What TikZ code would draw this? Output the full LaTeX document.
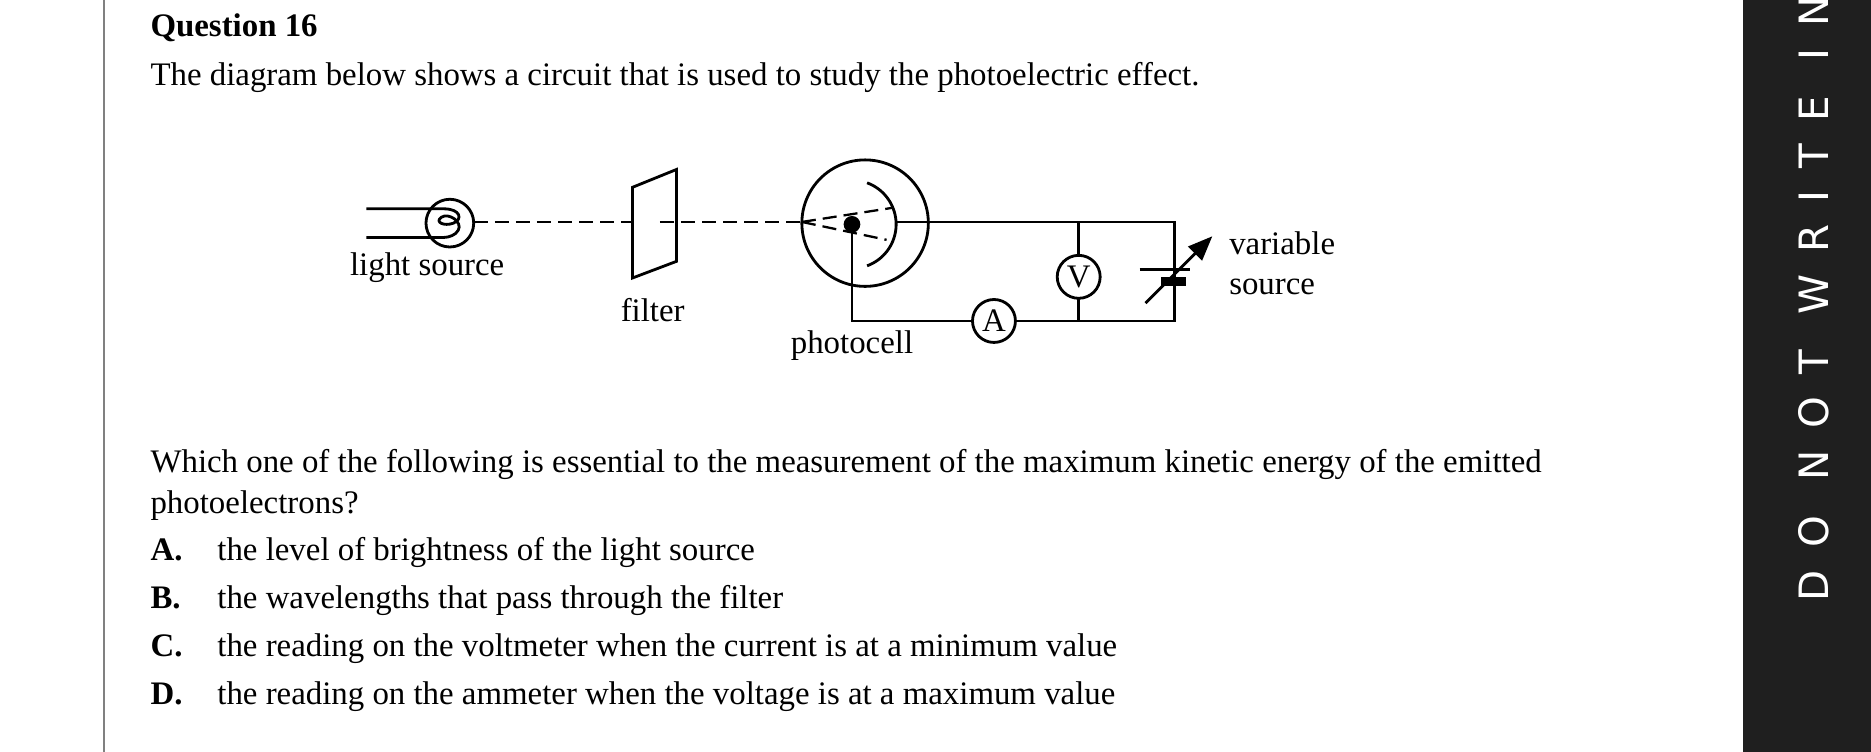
\documentclass[tikz,border=0pt]{standalone}
\usepackage{fontspec}
\setmainfont{Liberation Serif}
\newfontfamily\sidefont[LetterSpace=55]{DejaVu Sans}
\usetikzlibrary{arrows.meta}
\begin{document}
\begin{tikzpicture}[x=0.02386cm, y=-0.02386cm, line width=1.6pt,
  every node/.style={font=\fontsize{18.7}{22}\selectfont, inner sep=0pt},
  meter/.style={draw, circle, minimum size=36*0.02386cm, inner sep=0pt, fill=white},
  beam/.style={dash pattern=on 8pt off 4pt, line width=1.3pt}]
\useasboundingbox (0,0) rectangle (1568,630);
\clip (0,0) rectangle (1568,630);
% page furniture
\draw[gray, line width=1pt] (87,0) -- (87,630);
\fill[black!88] (1461,0) rectangle (1568,630);
\node[rotate=90, anchor=west, text=white, font=\sidefont\fontsize{23}{25}\selectfont] at (1520,505) {DO NOT WRITE IN};
% text
\node[anchor=base west, font=\bfseries\fontsize{18.7}{22}\selectfont] at (125,31) {Question 16};
\node[anchor=base west] at (125,72) {The diagram below shows a circuit that is used to study the photoelectric effect.};
\node[anchor=base west] at (125,396) {Which one of the following is essential to the measurement of the maximum kinetic energy of the emitted};
\node[anchor=base west] at (125,430) {photoelectrons?};
\foreach \l/\t [count=\i] in {A/the level of brightness of the light source,
  B/the wavelengths that pass through the filter,
  C/the reading on the voltmeter when the current is at a minimum value,
  D/the reading on the ammeter when the voltage is at a maximum value}{
  \node[anchor=base west, font=\bfseries\fontsize{18.7}{22}\selectfont] at (125,430+40*\i) {\l.};
  \node[anchor=base west] at (181,430+40*\i) {\t};
}
% light source
\draw (307,175) -- (372,175) .. controls (386,175) and (388,184) .. (380,187)
  .. controls (372,190) and (364,186) .. (370,182) .. controls (376,178) and (388,186) .. (384,193)
  .. controls (382,197) and (376,199) .. (372,199) -- (307,199);
\draw (377,187) circle (20);
\node (lamp) at (358,224) {light source};
% beam
\draw[beam] (397,186) -- (530,186);
\draw[beam] (553,186) -- (672,186);
% filter
\draw (530,157) -- (567,142) -- (567,219) -- (530,233) -- cycle;
\node (filter) at (547,260) {filter};
% photocell
\draw (725,187) circle (53);
\draw[domain=-70:70, samples=40] plot ({714+37*cos(\x)}, {188+37*sin(\x)});
\draw[beam] (672,186) -- (749,174);
\draw[beam] (672,186) -- (743,201);
\fill (714,188) circle (7);
\node (cell) at (714,290) {photocell};
% circuit
\draw (751,186) -- (984,186) -- (984,269) -- (714,269) -- (714,188);
\draw (904,186) -- (904,269);
\node[meter] (A) at (833,269) {A};
\node[meter] (V) at (904,232) {V};
% variable source
\draw (955,226) -- (997,226);
\fill (973,232) rectangle (994,240);
\draw[-{Triangle[length=14pt,width=11pt]}] (960,254) -- (1016,198);
\node[anchor=base west] at (1029,213) {variable};
\node[anchor=base west] at (1029,247) {source};
\end{tikzpicture}
\end{document}
